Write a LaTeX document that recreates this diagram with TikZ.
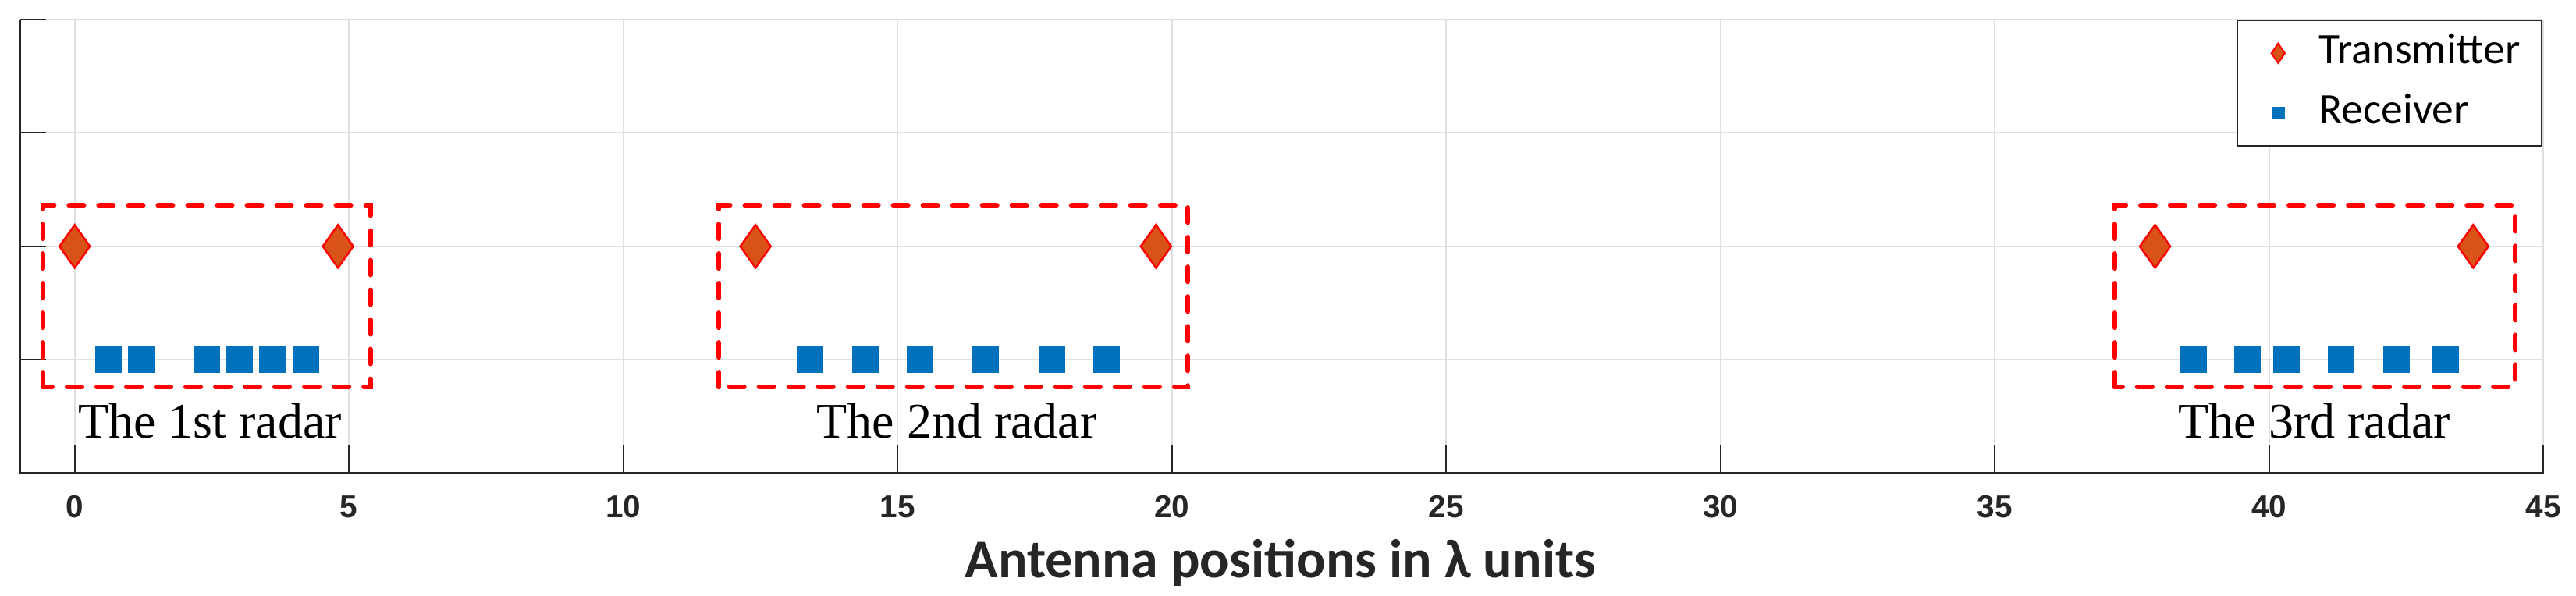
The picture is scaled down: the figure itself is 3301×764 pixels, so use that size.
\documentclass[tikz,border=0pt]{standalone}
\usepackage{fontspec}
\setmainfont{Liberation Serif}
\newfontfamily\arialfont{Liberation Sans}
\newfontfamily\calfont{Carlito}
\usetikzlibrary{shapes.geometric}
\definecolor{axgray}{HTML}{262626}
\definecolor{gridgray}{HTML}{DFDFDF}
\definecolor{txfill}{HTML}{D95319}
\definecolor{rxblue}{HTML}{0072BD}
\definecolor{boxred}{HTML}{FF0000}
\begin{document}
\begin{tikzpicture}[x=0.01cm,y=-0.01cm,
  gridline/.style={draw=gridgray,line width=0.02cm},
  axisline/.style={draw=axgray,line width=0.028cm},
  tickline/.style={draw=axgray,line width=0.02cm},
  txmark/.style={diamond,draw=boxred,fill=txfill,line width=0.025cm,minimum width=0.40cm,minimum height=0.56cm,inner sep=0pt},
  rxmark/.style={rectangle,fill=rxblue,minimum size=0.34cm,inner sep=0pt},
  txleg/.style={diamond,draw=boxred,fill=txfill,line width=0.02cm,minimum width=0.18cm,minimum height=0.26cm,inner sep=0pt},
  rxleg/.style={rectangle,fill=rxblue,minimum size=0.16cm,inner sep=0pt},
  radarbox/.style={draw=boxred,line width=0.06cm,dash pattern=on 0.19cm off 0.19cm,line cap=round},
  ticklabel/.style={font=\arialfont\bfseries\fontsize{11.5}{12}\selectfont,text=axgray,anchor=base,inner sep=0pt},
  radarlabel/.style={font=\fontsize{18.2}{20}\selectfont,anchor=base,inner sep=0pt},
  legtext/.style={font=\calfont\fontsize{15.8}{18}\selectfont,anchor=base west,inner sep=0pt},
]
\useasboundingbox (0,0) rectangle (3301,764);
\fill[white] (0,0) rectangle (3301,764);

\begin{scope}[shift={(95.7,606.7)},x=0.7026cm,y=1.4535cm]
  % grid
  \foreach \i in {0,5,...,45} \draw[gridline] (\i,0) -- (\i,4);
  \foreach \j in {1,2,3,4} \draw[gridline] (-1,\j) -- (45,\j);
  % axes
  \draw[axisline] (-1,4) -- (-1,0) -- (45,0);
  \foreach \j in {1,2,3,4} \draw[tickline] (-1,\j) -- ++(0.337cm,0);
  \foreach \i in {0,5,...,45} {
    \draw[tickline] (\i,0) -- ++(0,0.36cm);
    \node[ticklabel,yshift=-0.566cm] (xt\i) at (\i,0) {\i};
  }
  % radar boxes
  \draw[radarbox] (-0.58,0.76) rectangle (5.39,2.36);
  \draw[radarbox] (11.74,0.76) rectangle (20.29,2.36);
  \draw[radarbox] (37.18,0.76) rectangle (44.49,2.36);
  % transmitters
  \foreach \x [count=\k] in {0,4.8,12.41,19.71,37.92,43.72}
    \node[txmark] (tx\k) at (\x,2) {};
  % receivers
  \foreach \x [count=\k] in {0.61,1.21,2.41,3.01,3.6,4.21,13.41,14.41,15.41,16.61,17.81,18.81,38.62,39.61,40.31,41.31,42.32,43.22}
    \node[rxmark] (rx\k) at (\x,1) {};
\end{scope}

% radar labels
\node[radarlabel] (lab1) at (269,561.7) {The 1st radar};
\node[radarlabel] (lab2) at (1226,561.7) {The 2nd radar};
\node[radarlabel] (lab3) at (2965.7,561.7) {The 3rd radar};

% x label
\node[font=\calfont\bfseries\fontsize{19.9}{22}\selectfont,text=axgray,anchor=base,inner sep=0pt] (xlabel) at (1641,740) {Antenna positions in λ units};

% legend
\draw[draw=axgray,fill=white,line width=0.025cm] (2866.7,26) rectangle (3256.7,187.3);
\node[txleg] (legtx) at (2919.3,68.3) {};
\node[rxleg] (legrx) at (2920,145) {};
\node[legtext] (legtxt1) at (2970.7,81.7) {Transmitter};
\node[legtext] (legtxt2) at (2970.7,158.3) {Receiver};
\end{tikzpicture}
\end{document}
